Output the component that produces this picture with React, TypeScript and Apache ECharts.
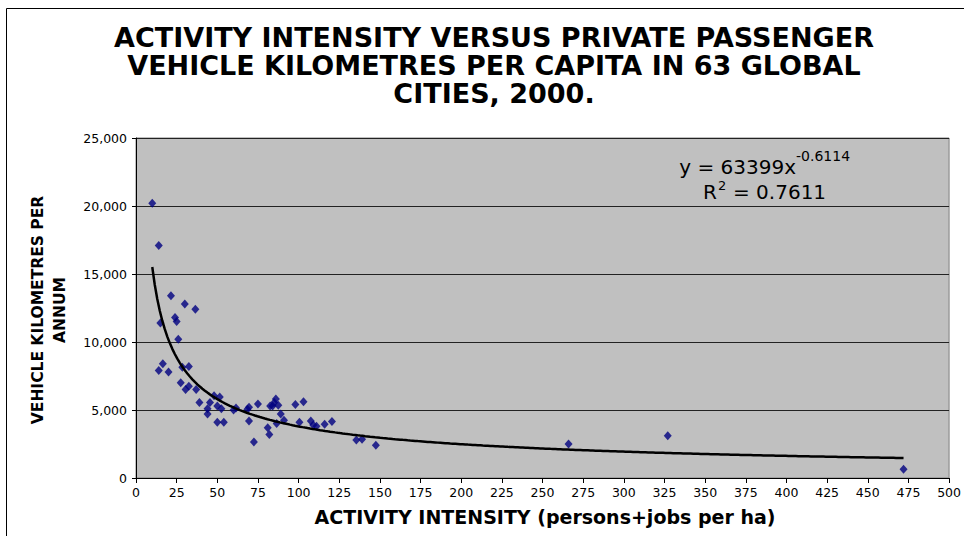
import React, { useEffect, useRef } from "react";
import * as echarts from "echarts";

// Activity intensity (persons+jobs per ha) per city
const activityIntensity = [
  10, 14, 21.5, 30, 36.5, 24, 25, 15, 26, 16.5,
  14, 20, 28.5, 32.5, 27.5, 32.5, 30.5, 37, 39, 45.5,
  48, 51.5, 44, 44, 50, 52.5, 50, 54, 60, 61.5,
  69.5, 69.5, 75, 72.5, 81, 82, 82.5, 85, 86, 87.5,
  89, 86.5, 91, 98, 103, 100.5, 107.5, 109, 111, 116,
  120.5, 135.5, 139, 147.5, 266, 327, 472, 68.5, 84,
];
// Private passenger vehicle kilometres per capita per annum
const vehicleKm = [
  20200, 17100, 13400, 12800, 12400, 11800, 11500, 11400, 10200, 8400,
  7900, 7800, 8150, 8200, 7000, 6750, 6500, 6500, 5550, 5550,
  6050, 5950, 5100, 4700, 5300, 5100, 4100, 4100, 5000, 5150,
  5200, 4200, 5450, 2650, 3700, 3200, 5300, 5550, 5800, 5350,
  4700, 4000, 4250, 5400, 5600, 4100, 4200, 3900, 3800, 3950,
  4150, 2800, 2850, 2400, 2500, 3100, 650, 5050, 5300,
];

// Power trendline shown on the chart: y = 63399 x^-0.6114
const trendCoef = 63399;
const trendExp = -0.6114;

const titleLines = [
  "ACTIVITY INTENSITY VERSUS PRIVATE PASSENGER",
  "VEHICLE KILOMETRES PER CAPITA IN 63 GLOBAL",
  "CITIES, 2000.",
];
const xAxisTitle = "ACTIVITY INTENSITY (persons+jobs per ha)";
const yAxisTitle = "VEHICLE KILOMETRES PER\nANNUM";

const FONT = "DejaVu Sans, Verdana, sans-serif";

export default function App() {
  const ref = useRef<HTMLDivElement>(null);

  useEffect(() => {
    if (!ref.current) return;
    const chart = echarts.init(ref.current, null, { renderer: "svg" });

    const points = activityIntensity.map((x, i) => [x, vehicleKm[i]]);
    const xMin = Math.min(...activityIntensity);
    const xMax = Math.max(...activityIntensity);
    const trend: number[][] = [];
    const steps = 300;
    for (let i = 0; i <= steps; i++) {
      const x = xMin + ((xMax - xMin) * i) / steps;
      trend.push([x, trendCoef * Math.pow(x, trendExp)]);
    }

    const txt = (
      text: string,
      x: number,
      y: number,
      size: number,
      align: string,
      extra: any = {}
    ) => ({
      type: "text",
      x,
      y,
      style: {
        text,
        fontFamily: FONT,
        fontSize: size,
        fill: "#000",
        textAlign: align,
        textVerticalAlign: "middle",
        ...extra,
      },
    });

    chart.setOption({
      animation: false,
      backgroundColor: "#ffffff",
      textStyle: { fontFamily: FONT },
      grid: {
        left: 136,
        top: 138,
        right: 13,
        bottom: 58,
        show: true,
        backgroundColor: "#c0c0c0",
        borderColor: "#808080",
        borderWidth: 1,
      },
      xAxis: {
        type: "value",
        min: 0,
        max: 500,
        interval: 25,
        axisLine: { show: true, onZero: false, lineStyle: { color: "#000", width: 1 } },
        axisTick: { show: true, length: 5, lineStyle: { color: "#000" } },
        axisLabel: { color: "#000", fontSize: 12.5, margin: 8, fontFamily: FONT },
        splitLine: { show: false },
      },
      yAxis: {
        type: "value",
        min: 0,
        max: 25000,
        interval: 5000,
        axisLine: { show: true, lineStyle: { color: "#000", width: 1 } },
        axisTick: { show: true, length: 4, lineStyle: { color: "#000" } },
        axisLabel: {
          color: "#000",
          fontSize: 12.5,
          margin: 9,
          fontFamily: FONT,
          formatter: (v: number) => v.toLocaleString("en-US"),
        },
        splitLine: { show: true, lineStyle: { color: "#222", width: 1 } },
      },
      series: [
        {
          type: "scatter",
          data: points,
          symbol: "diamond",
          symbolSize: [8, 9],
          itemStyle: { color: "#000080" },
          z: 3,
        },
        {
          type: "line",
          data: trend,
          showSymbol: false,
          symbol: "none",
          lineStyle: { color: "#000", width: 2.5 },
          z: 4,
        },
      ],
      graphic: [
        {
          type: "rect",
          shape: { x: 6.5, y: 8.5, width: 1200, height: 1200 },
          style: { fill: "none", stroke: "#000", lineWidth: 1 },
          silent: true,
          z: 0,
        },
        ...titleLines.map((t, i) =>
          txt(t, 494, 37 + i * 28, 27, "center", { fontWeight: "bold" })
        ),
        {
          type: "text",
          x: 49,
          y: 310,
          rotation: Math.PI / 2,
          style: {
            text: yAxisTitle,
            fontFamily: FONT,
            fontWeight: "bold",
            fontSize: 15.5,
            lineHeight: 22,
            fill: "#000",
            textAlign: "center",
            textVerticalAlign: "middle",
          },
        },
        txt(xAxisTitle, 545, 517, 19, "center", { fontWeight: "bold" }),
        txt("y = 63399x", 796, 167, 20, "right"),
        txt("-0.6114", 796, 156, 14, "left"),
        txt("R", 703, 192, 20, "left"),
        txt("2", 718, 185, 13, "left"),
        txt("= 0.7611", 733, 192, 20, "left"),
      ],
    });

    return () => {
      chart.dispose();
    };
  }, []);

  return (
    <div
      ref={ref}
      style={{ position: "absolute", left: 0, top: 0, width: 964, height: 536 }}
    />
  );
}
